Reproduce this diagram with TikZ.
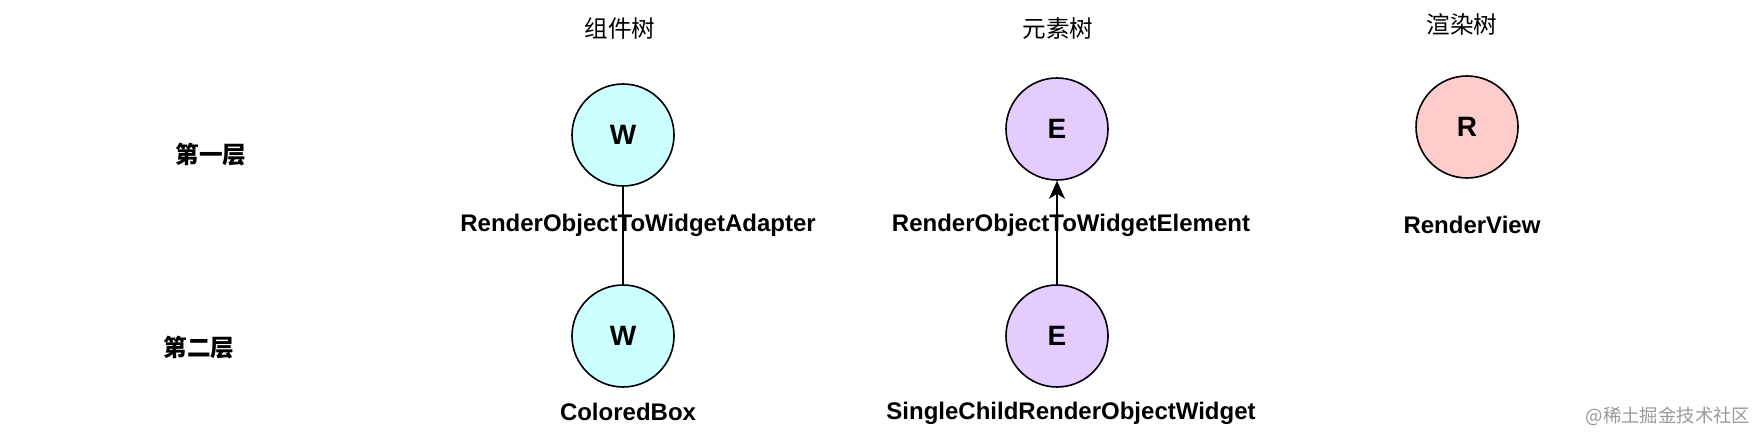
\documentclass[tikz,border=0pt]{standalone}
\usepackage{fontspec}
\setmainfont{Liberation Sans}
\newfontfamily\cjk{Noto Sans CJK SC}
\usetikzlibrary{arrows.meta}
\definecolor{wfill}{HTML}{CCFFFF}
\definecolor{efill}{HTML}{E5CCFF}
\definecolor{rfill}{HTML}{FFCCCC}
\tikzset{
  treenode/.style={circle, draw=black, line width=0.8pt, minimum size=51pt,
    inner sep=0pt, font=\bfseries\fontsize{14}{16}\selectfont},
  namelbl/.style={font=\bfseries\fontsize{12}{14}\selectfont},
  treetitle/.style={font=\cjk\fontsize{11.8}{14}\selectfont},
  levellbl/.style={font=\cjk\bfseries\fontsize{11.8}{14}\selectfont},
}
\begin{document}
\begin{tikzpicture}[x=0.5pt,y=-0.5pt]
\useasboundingbox (0,0) rectangle (1764,442);

\node[treetitle] (Wtitle) at (620,29) {组件树};
\node[treetitle] (Etitle) at (1058,29) {元素树};
\node[treetitle] (Rtitle) at (1462,24) {渲染树};

\node[levellbl] (level-1) at (211,155) {第一层};
\node[levellbl] (level-2) at (199,348) {第二层};

\node[treenode, fill=wfill] (W1) at (623,135) {W};
\node[treenode, fill=wfill] (W2) at (623,336) {W};
\node[treenode, fill=efill] (E1) at (1057,129) {E};
\node[treenode, fill=efill] (E2) at (1057,336) {E};
\node[treenode, fill=rfill] (R1) at (1467,127) {R};

\node[namelbl] (W1-name) at (638,225) {RenderObjectToWidgetAdapter};
\node[namelbl] (W2-name) at (628,412) {ColoredBox};
\node[namelbl] (E1-name) at (1071,225) {RenderObjectToWidgetElement};
\node[namelbl] (E2-name) at (1071,413) {SingleChildRenderObjectWidget};
\node[namelbl] (R1-name) at (1472,225) {RenderView};

\node[font=\cjk\fontsize{9.2}{11}\selectfont, text=black!40] (mark) at (1668,416) {@稀土掘金技术社区};

\draw[line width=0.8pt] (W1) -- (W2);
\draw[line width=0.8pt, -{Stealth[length=9pt, width=8pt, inset=2.5pt]}] (E2) -- (E1);
\end{tikzpicture}
\end{document}
